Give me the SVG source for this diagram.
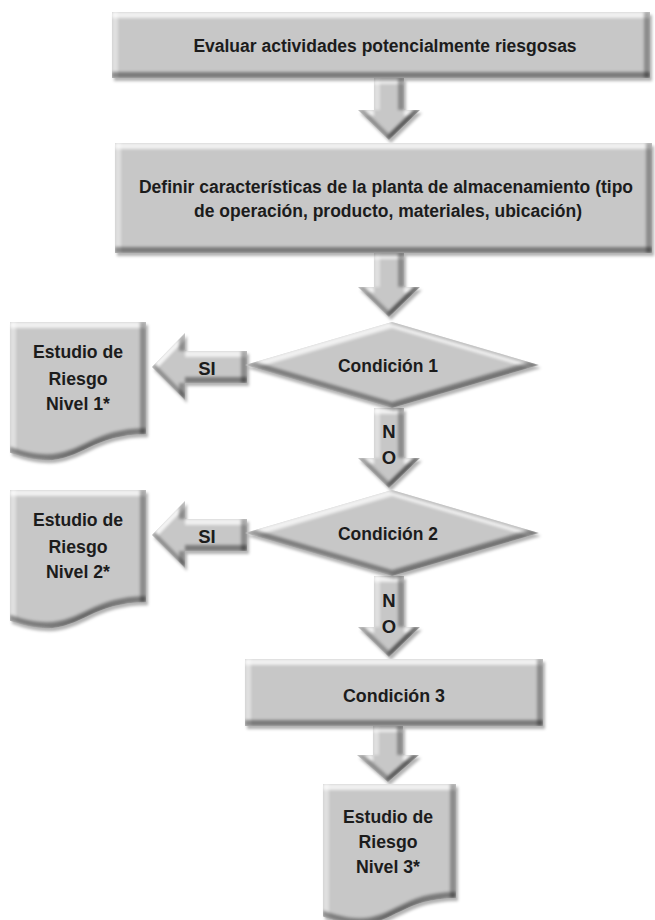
<svg xmlns="http://www.w3.org/2000/svg" width="655" height="920" viewBox="0 0 655 920">
  <defs>
    <filter id="bevel" x="-10%" y="-10%" width="125%" height="130%" color-interpolation-filters="sRGB">
      <feOffset in="SourceAlpha" dx="0" dy="6" result="oT"/>
      <feComposite in="SourceAlpha" in2="oT" operator="out" result="bT0"/>
      <feGaussianBlur in="bT0" stdDeviation="1.8" result="bT1"/>
      <feComposite in="bT1" in2="SourceAlpha" operator="in" result="bT"/>
      <feFlood flood-color="#ffffff" flood-opacity="0.75"/>
      <feComposite in2="bT" operator="in" result="hiT"/>
      <feOffset in="SourceAlpha" dx="6" dy="0" result="oL"/>
      <feComposite in="SourceAlpha" in2="oL" operator="out" result="bL0"/>
      <feGaussianBlur in="bL0" stdDeviation="1.8" result="bL1"/>
      <feComposite in="bL1" in2="SourceAlpha" operator="in" result="bL"/>
      <feFlood flood-color="#ffffff" flood-opacity="0.45"/>
      <feComposite in2="bL" operator="in" result="hiL"/>
      <feOffset in="SourceAlpha" dx="0" dy="-6" result="oB"/>
      <feComposite in="SourceAlpha" in2="oB" operator="out" result="bB0"/>
      <feGaussianBlur in="bB0" stdDeviation="1.8" result="bB1"/>
      <feComposite in="bB1" in2="SourceAlpha" operator="in" result="bB"/>
      <feFlood flood-color="#000000" flood-opacity="0.38"/>
      <feComposite in2="bB" operator="in" result="shB"/>
      <feOffset in="SourceAlpha" dx="-6" dy="0" result="oR"/>
      <feComposite in="SourceAlpha" in2="oR" operator="out" result="bR0"/>
      <feGaussianBlur in="bR0" stdDeviation="1.8" result="bR1"/>
      <feComposite in="bR1" in2="SourceAlpha" operator="in" result="bR"/>
      <feFlood flood-color="#000000" flood-opacity="0.3"/>
      <feComposite in2="bR" operator="in" result="shR"/>
      <feGaussianBlur in="SourceAlpha" stdDeviation="1.6" result="sb"/>
      <feOffset in="sb" dx="1.5" dy="2.5" result="so"/>
      <feFlood flood-color="#000000" flood-opacity="0.3"/>
      <feComposite in2="so" operator="in" result="drop"/>
      <feMerge>
        <feMergeNode in="drop"/>
        <feMergeNode in="SourceGraphic"/>
        <feMergeNode in="hiT"/>
        <feMergeNode in="hiL"/>
        <feMergeNode in="shB"/>
        <feMergeNode in="shR"/>
      </feMerge>
    </filter>
  </defs>
  <style>
    .shape { fill: #c7c7c7; filter: url(#bevel); }
    text { font-family: "Liberation Sans", Arial, sans-serif; font-weight: bold; font-size: 18.5px; fill: #1c1c1c; text-anchor: middle; }
    .long { font-size: 17.5px; }
  </style>
  <rect width="655" height="920" fill="#ffffff"/>

  <g id="connectors">
    <polygon class="shape" points="374,78 404,78 404,110 420,110 389,140 358,110 374,110"/>
    <polygon class="shape" points="374,253 404,253 404,287 420,287 389,317 358,287 374,287"/>
    <polygon class="shape" points="152,367 185,333 185,351 247,351 247,383 185,383 185,400"/>
    <text x="207" y="375">SI</text>
    <polygon class="shape" points="374,408 404,408 404,458 420,458 389,488 358,458 374,458"/>
    <text x="389" y="438">N</text>
    <text x="389" y="464">O</text>
    <polygon class="shape" points="152,535 185,501 185,519 247,519 247,551 185,551 185,568"/>
    <text x="207" y="543">SI</text>
    <polygon class="shape" points="374,576 404,576 404,627 420,627 389,657 358,627 374,627"/>
    <text x="389" y="607">N</text>
    <text x="389" y="633">O</text>
    <polygon class="shape" points="373,726 403,726 403,755 419,755 388,782 357,755 373,755"/>
  </g>

  <g id="evaluar">
    <rect class="shape" x="112" y="12" width="538" height="66"/>
    <text class="long" x="385" y="52">Evaluar actividades potencialmente riesgosas</text>
  </g>

  <g id="definir">
    <rect class="shape" x="115" y="143" width="537" height="110"/>
    <text class="long" x="386" y="193">Definir características de la planta de almacenamiento (tipo</text>
    <text class="long" x="388" y="217">de operación, producto, materiales, ubicación)</text>
  </g>

  <g id="condicion1">
    <polygon class="shape" points="245,365 392,322 539,365 392,408"/>
    <text x="388" y="372" textLength="100" lengthAdjust="spacingAndGlyphs">Condición 1</text>
  </g>

  <g id="estudio1">
    <path class="shape" d="M10,322 H146 V434.3 C78,434.3 78,477 10,452.8 Z"/>
    <text x="78" y="358" textLength="90" lengthAdjust="spacingAndGlyphs">Estudio de</text>
    <text x="78" y="385" textLength="59" lengthAdjust="spacingAndGlyphs">Riesgo</text>
    <text x="78" y="410" textLength="64" lengthAdjust="spacingAndGlyphs">Nivel 1*</text>
  </g>

  <g id="condicion2">
    <polygon class="shape" points="245,533 392,490 539,533 392,576"/>
    <text x="388" y="540" textLength="100" lengthAdjust="spacingAndGlyphs">Condición 2</text>
  </g>

  <g id="estudio2">
    <path class="shape" d="M10,490 H146 V602.3 C78,602.3 78,645 10,620.8 Z"/>
    <text x="78" y="526" textLength="90" lengthAdjust="spacingAndGlyphs">Estudio de</text>
    <text x="78" y="553" textLength="59" lengthAdjust="spacingAndGlyphs">Riesgo</text>
    <text x="78" y="578" textLength="64" lengthAdjust="spacingAndGlyphs">Nivel 2*</text>
  </g>

  <g id="condicion3">
    <rect class="shape" x="245" y="659" width="298" height="67"/>
    <text x="394" y="702" textLength="102" lengthAdjust="spacingAndGlyphs">Condición 3</text>
  </g>

  <g id="estudio3">
    <path class="shape" d="M323,784 H456 V897.9 C389.5,897.9 389.5,941.3 323,916.6 Z"/>
    <text x="388" y="823" textLength="90" lengthAdjust="spacingAndGlyphs">Estudio de</text>
    <text x="388" y="848" textLength="59" lengthAdjust="spacingAndGlyphs">Riesgo</text>
    <text x="388" y="873" textLength="64" lengthAdjust="spacingAndGlyphs">Nivel 3*</text>
  </g>
</svg>
